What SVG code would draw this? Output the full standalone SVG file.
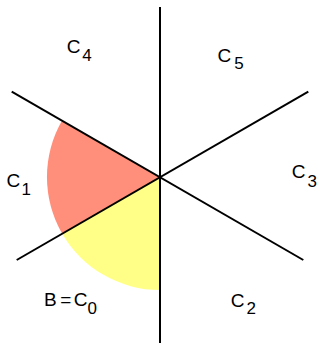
<svg xmlns="http://www.w3.org/2000/svg" width="320" height="343" viewBox="0 0 320 343">
<style>
.ln{stroke:#000;stroke-width:2;fill:none}
.lb{font-family:"Liberation Sans",Arial,sans-serif;font-size:19px;fill:#000}
.sb{font-size:17px}
</style>
<rect width="320" height="343" fill="#fff"/>
<g id="sector-red"><path d="M160,177 L62.1,120.5 A113,113 0 0 0 62.1,233.5 Z" fill="#ff8e7a"/></g>
<g id="sector-yellow"><path d="M160,177 L62.1,233.5 A113,113 0 0 0 160,290 Z" fill="#ffff88"/></g>
<g id="connectors">
<line class="ln" x1="160" y1="7" x2="160" y2="343"/>
<line class="ln" x1="11.7" y1="91.7" x2="303.3" y2="260"/>
<line class="ln" x1="16.7" y1="260" x2="308.3" y2="91.7"/>
</g>
<g id="C4"><text class="lb" x="66.7" y="52.5">C<tspan class="sb" x="82.2" y="60.7">4</tspan></text></g>
<g id="C5"><text class="lb" x="217.4" y="61.7">C<tspan class="sb" x="234.2" y="69.3">5</tspan></text></g>
<g id="C1"><text class="lb" x="6.4" y="187">C<tspan class="sb" x="21.4" y="195">1</tspan></text></g>
<g id="C3"><text class="lb" x="291.8" y="178">C<tspan class="sb" x="307.6" y="187">3</tspan></text></g>
<g id="C2"><text class="lb" x="230.8" y="307.3">C<tspan class="sb" x="246.6" y="314">2</tspan></text></g>
<g id="C0"><text class="lb" x="43.9" y="306">B<tspan x="60.2">=</tspan><tspan x="73.8">C</tspan><tspan class="sb" x="87.6" y="314">0</tspan></text></g>
</svg>
